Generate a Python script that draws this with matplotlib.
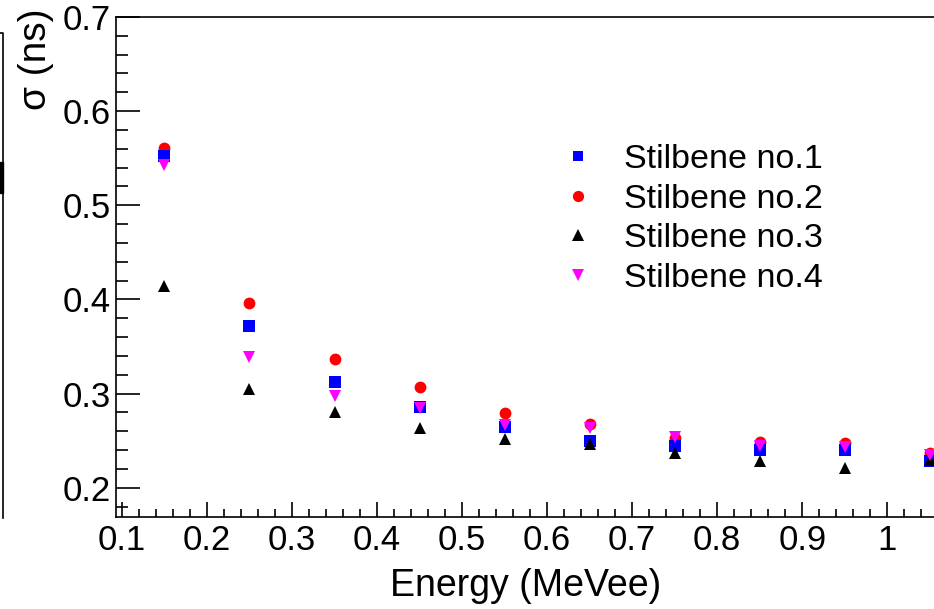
import numpy as np
import matplotlib.pyplot as plt
from matplotlib.ticker import MultipleLocator

plt.rcParams['font.family'] = ['Liberation Sans', 'DejaVu Sans']

# data
energy = [0.15, 0.25, 0.35, 0.45, 0.55, 0.65, 0.75, 0.85, 0.95, 1.05]
sigma1 = [0.552, 0.372, 0.312, 0.286, 0.265, 0.250, 0.244, 0.240, 0.240, 0.228]
sigma2 = [0.561, 0.396, 0.337, 0.307, 0.279, 0.268, 0.253, 0.249, 0.248, 0.237]
sigma3 = [0.414, 0.305, 0.281, 0.263, 0.252, 0.246, 0.237, 0.228, 0.221, 0.230]
sigma4 = [0.543, 0.339, 0.297, 0.285, 0.267, 0.263, 0.254, 0.244, 0.243, 0.235]
labels = ['Stilbene no.1', 'Stilbene no.2', 'Stilbene no.3', 'Stilbene no.4']

fig = plt.figure(figsize=(9.34, 6.09), dpi=100)
ax = fig.add_axes([116/934, 1 - 517/609, 1 - 116/934, (517 - 17)/609])

ax.plot(energy, sigma1, 's', color='blue', ms=8, mew=0, label=labels[0], zorder=3)
ax.plot(energy, sigma2, 'o', color='red', ms=8.5, mew=0, label=labels[1], zorder=2)
ax.plot(energy, sigma3, '^', color='black', ms=8.5, mew=0, label=labels[2], zorder=4)
ax.plot(energy, sigma4, 'v', color='magenta', ms=8.5, mew=0, label=labels[3], zorder=5)

ax.set_xlim(0.093, 1.055)
ax.set_ylim(0.169, 0.7)
ax.xaxis.set_major_locator(MultipleLocator(0.1))
ax.xaxis.set_minor_locator(MultipleLocator(0.02))
ax.yaxis.set_major_locator(MultipleLocator(0.1))
ax.yaxis.set_minor_locator(MultipleLocator(0.02))
ax.xaxis.set_major_formatter(lambda v, p: ('%g' % round(v, 2)))
ax.yaxis.set_major_formatter(lambda v, p: ('%g' % round(v, 2)))

ax.tick_params(axis='both', which='both', direction='in', labelsize=25, width=1.2, colors='black')
ax.tick_params(axis='x', which='major', length=11, pad=5)
ax.tick_params(axis='x', which='minor', length=6)
ax.tick_params(axis='y', which='major', length=17, pad=4)
ax.tick_params(axis='y', which='minor', length=8.5)
ax.spines['right'].set_visible(False)
for s in ['left', 'bottom', 'top']:
    ax.spines[s].set_linewidth(1.2)

fig.text(390/934, 1 - 586/609, 'Energy (MeVee)', fontsize=27, ha='left', va='center')
fig.text(36/934, 1 - 8/609, 'σ (ns)', fontsize=28, rotation=90, ha='center', va='top')

ax.legend(frameon=False, loc='upper left', bbox_to_anchor=(561/934, 1 - 144/609),
          bbox_transform=fig.transFigure, fontsize=24.5, markerscale=0.95,
          handlelength=1.0, handletextpad=0.85, labelspacing=0.25,
          borderaxespad=0, borderpad=0)

# edge of the neighbouring panel, cut off on the left
fig.add_artist(plt.Line2D([0, 3/934, 3/934], [1 - 33/609, 1 - 33/609, 1 - 518/609],
                          transform=fig.transFigure, color='black', lw=1.2))
fig.add_artist(plt.Rectangle((0, 1 - 193/609), 3/934, 31/609, transform=fig.transFigure,
                             color='black'))

fig.savefig('out.png', dpi=100)
